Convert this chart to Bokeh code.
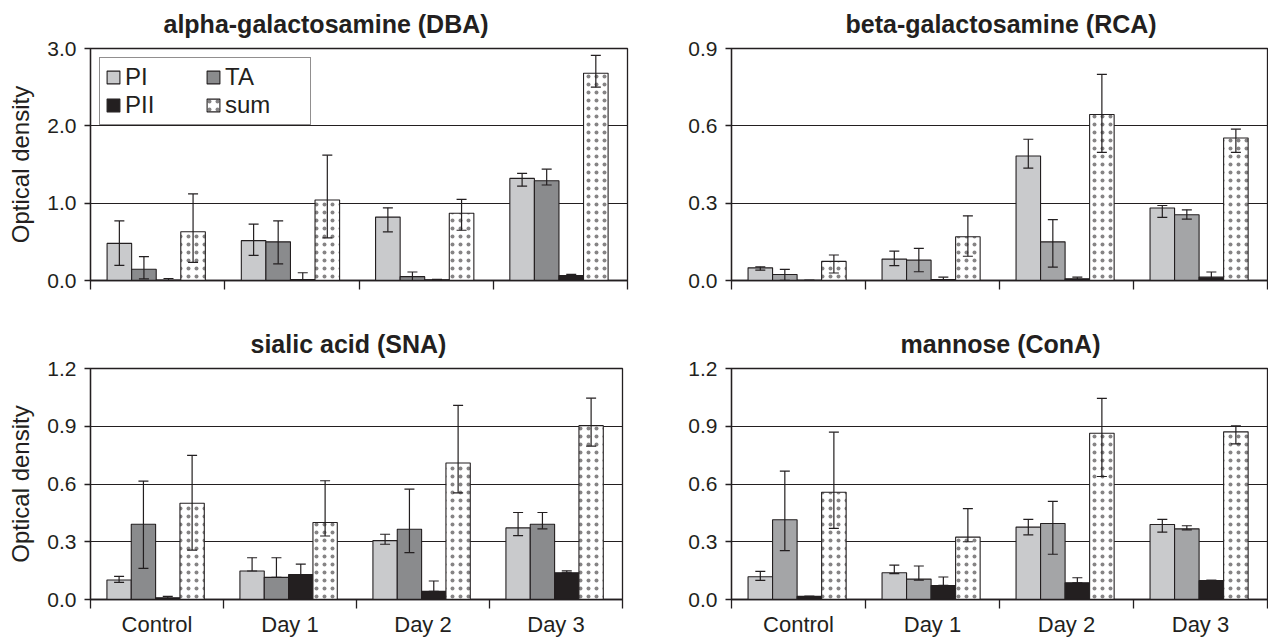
from bokeh.plotting import figure
from bokeh.models import (Range1d, FixedTicker, PrintfTickFormatter, Whisker, TeeHead,
                          ColumnDataSource, Legend, LegendItem)
from bokeh.layouts import column, row
from bokeh.embed import file_html
from bokeh.resources import INLINE

CATEGORIES = ["Control", "Day 1", "Day 2", "Day 3"]
SERIES = ["PI", "TA", "PII", "sum"]

# alpha-galactosamine (DBA)
DBA_PI = [0.48, 0.515, 0.82, 1.32]
DBA_PI_LO = [0.195, 0.325, 0.63, 1.22]
DBA_PI_HI = [0.77, 0.73, 0.94, 1.385]
DBA_TA = [0.145, 0.50, 0.05, 1.29]
DBA_TA_LO = [0.02, 0.215, 0.0, 1.235]
DBA_TA_HI = [0.31, 0.77, 0.11, 1.44]
DBA_PII = [0.005, 0.013, 0.01, 0.065]
DBA_PII_LO = [0.0, 0.0, 0.005, 0.055]
DBA_PII_HI = [0.026, 0.10, 0.015, 0.078]
DBA_SUM = [0.63, 1.04, 0.87, 2.68]
DBA_SUM_LO = [0.235, 0.55, 0.65, 2.50]
DBA_SUM_HI = [1.12, 1.62, 1.05, 2.91]

# beta-galactosamine (RCA)
RCA_PI = [0.049, 0.083, 0.483, 0.281]
RCA_PI_LO = [0.040, 0.058, 0.436, 0.245]
RCA_PI_HI = [0.053, 0.114, 0.548, 0.291]
RCA_TA = [0.023, 0.079, 0.150, 0.255]
RCA_TA_LO = [0.001, 0.034, 0.052, 0.238]
RCA_TA_HI = [0.043, 0.125, 0.236, 0.274]
RCA_PII = [0.001, 0.004, 0.0065, 0.013]
RCA_PII_LO = [0.001, 0.0, 0.002, 0.0]
RCA_PII_HI = [0.001, 0.013, 0.013, 0.033]
RCA_SUM = [0.074, 0.170, 0.644, 0.553]
RCA_SUM_LO = [0.029, 0.094, 0.497, 0.497]
RCA_SUM_HI = [0.099, 0.251, 0.80, 0.587]

# sialic acid (SNA)
SNA_PI = [0.101, 0.148, 0.306, 0.372]
SNA_PI_LO = [0.089, 0.148, 0.287, 0.332]
SNA_PI_HI = [0.12, 0.217, 0.339, 0.452]
SNA_TA = [0.391, 0.115, 0.365, 0.391]
SNA_TA_LO = [0.162, 0.115, 0.243, 0.367]
SNA_TA_HI = [0.615, 0.217, 0.573, 0.452]
SNA_PII = [0.009, 0.13, 0.042, 0.139]
SNA_PII_LO = [0.005, 0.13, 0.042, 0.139]
SNA_PII_HI = [0.016, 0.184, 0.096, 0.149]
SNA_SUM = [0.50, 0.40, 0.709, 0.903]
SNA_SUM_LO = [0.257, 0.33, 0.554, 0.797]
SNA_SUM_HI = [0.749, 0.617, 1.008, 1.046]

# mannose (ConA)
CONA_PI = [0.118, 0.139, 0.376, 0.39]
CONA_PI_LO = [0.099, 0.134, 0.336, 0.35]
CONA_PI_HI = [0.146, 0.179, 0.416, 0.416]
CONA_TA = [0.414, 0.106, 0.395, 0.367]
CONA_TA_LO = [0.254, 0.101, 0.235, 0.362]
CONA_TA_HI = [0.667, 0.174, 0.51, 0.383]
CONA_PII = [0.016, 0.073, 0.087, 0.099]
CONA_PII_LO = [0.016, 0.073, 0.087, 0.099]
CONA_PII_HI = [0.016, 0.117, 0.113, 0.099]
CONA_SUM = [0.557, 0.324, 0.864, 0.871]
CONA_SUM_LO = [0.369, 0.30, 0.639, 0.808]
CONA_SUM_HI = [0.869, 0.472, 1.045, 0.902]

FONT = "Liberation Sans"
INK = "#231f20"
PI_COLOR = "#c9cacc"
PII_COLOR = "#231f20"
BAR_W = 0.183
OFFSETS = [-0.285, -0.102, 0.081, 0.264]


def make_panel(title, vals, los, his, ta_color, ymax, yticks,
               fw, fh, bl, br, bt, bb, xlabels, ylabel, title_offset, legend=False):
    p = figure(frame_width=fw, frame_height=fh, x_range=Range1d(0, 4), y_range=Range1d(0, ymax),
               output_backend="svg", toolbar_location=None, title=title,
               min_border_left=bl, min_border_right=br, min_border_top=bt, min_border_bottom=bb)
    p.background_fill_color = "white"
    p.border_fill_color = "white"
    p.outline_line_color = INK
    p.outline_line_width = 1.3

    p.title.align = "left"
    p.title.offset = title_offset
    p.title.vertical_align = "top"
    p.title.standoff = 17
    p.title.text_font = FONT
    p.title.text_font_size = "25px"
    p.title.text_font_style = "bold"
    p.title.text_color = INK

    centers = [i + 0.5 for i in range(len(CATEGORIES))]
    xa = p.xaxis[0]
    xa.ticker = FixedTicker(ticks=centers, minor_ticks=list(range(len(CATEGORIES) + 1)))
    if xlabels:
        xa.major_label_overrides = {c: lab for c, lab in zip(centers, CATEGORIES)}
    else:
        xa.major_label_overrides = {c: "" for c in centers}
    xa.major_tick_line_color = None
    xa.major_tick_in = 0
    xa.major_tick_out = 0
    xa.minor_tick_line_color = INK
    xa.minor_tick_line_width = 1.3
    xa.minor_tick_in = 0
    xa.minor_tick_out = 9
    xa.axis_line_color = INK
    xa.axis_line_width = 1.3
    xa.major_label_standoff = 3
    xa.major_label_text_font = FONT
    xa.major_label_text_color = INK
    xa.major_label_text_font_size = "22px"

    ya = p.yaxis[0]
    ya.ticker = FixedTicker(ticks=yticks, minor_ticks=[])
    ya.formatter = PrintfTickFormatter(format="%.1f")
    ya.major_tick_in = 0
    ya.major_tick_out = 6
    ya.major_tick_line_color = INK
    ya.major_tick_line_width = 1.3
    ya.axis_line_color = INK
    ya.axis_line_width = 1.3
    ya.major_label_text_font = FONT
    ya.major_label_text_font_size = "21px"
    ya.major_label_text_color = INK
    ya.major_label_standoff = 8
    if ylabel:
        ya.axis_label = "Optical density"
        ya.axis_label_text_font = FONT
        ya.axis_label_text_font_size = "24px"
        ya.axis_label_text_font_style = "normal"
        ya.axis_label_text_color = INK
        ya.axis_label_standoff = 10

    p.xgrid.grid_line_color = None
    p.ygrid.ticker = FixedTicker(ticks=yticks)
    p.ygrid.grid_line_color = INK
    p.ygrid.grid_line_width = 1.2

    colors = [PI_COLOR, ta_color, PII_COLOR, "white"]
    renderers = []
    for k, name in enumerate(SERIES):
        xs = [c + OFFSETS[k] for c in centers]
        src = ColumnDataSource(dict(x=xs, top=vals[k], lo=los[k], hi=his[k]))
        kw = dict(x="x", top="top", bottom=0, width=BAR_W, source=src,
                  fill_color=colors[k], line_color=INK, line_width=1.1)
        if name == "sum":
            kw.update(hatch_pattern="dot", hatch_color=INK, hatch_scale=8, hatch_weight=0.4,
                      hatch_alpha=0.55)
        r = p.vbar(**kw)
        renderers.append(r)
        w = Whisker(base="x", upper="hi", lower="lo", source=src, line_color=INK, line_width=1.2,
                    level="overlay",
                    upper_head=TeeHead(size=10, line_color=INK, line_width=1.2),
                    lower_head=TeeHead(size=10, line_color=INK, line_width=1.2))
        p.add_layout(w)

    if legend:
        order = [0, 2, 1, 3]  # column-major fill: PI, PII | TA, sum
        lg = Legend(items=[LegendItem(label=SERIES[i], renderers=[renderers[i]]) for i in order],
                    location="top_left", ncols=2)
        lg.label_text_font = FONT
        lg.label_text_font_size = "24px"
        lg.label_text_color = INK
        lg.glyph_width = 16
        lg.glyph_height = 16
        lg.label_standoff = 4
        lg.label_width = 80
        lg.label_height = 20
        lg.spacing = 0
        lg.padding = 5
        lg.margin = 9
        lg.border_line_color = INK
        lg.border_line_width = 1.5
        lg.background_fill_alpha = 1.0
        p.add_layout(lg)
    return p


p1 = make_panel("alpha-galactosamine (DBA)",
                [DBA_PI, DBA_TA, DBA_PII, DBA_SUM],
                [DBA_PI_LO, DBA_TA_LO, DBA_PII_LO, DBA_SUM_LO],
                [DBA_PI_HI, DBA_TA_HI, DBA_PII_HI, DBA_SUM_HI],
                "#8a8b8d", 3.0, [0, 1, 2, 3], 537, 232, 90, 7, 48, 40, False, True, 73, legend=True)
p2 = make_panel("beta-galactosamine (RCA)",
                [RCA_PI, RCA_TA, RCA_PII, RCA_SUM],
                [RCA_PI_LO, RCA_TA_LO, RCA_PII_LO, RCA_SUM_LO],
                [RCA_PI_HI, RCA_TA_HI, RCA_PII_HI, RCA_SUM_HI],
                "#a4a5a7", 0.9, [0, 0.3, 0.6, 0.9], 536, 232, 97, 1, 48, 40, False, False, 114)
p3 = make_panel("sialic acid (SNA)",
                [SNA_PI, SNA_TA, SNA_PII, SNA_SUM],
                [SNA_PI_LO, SNA_TA_LO, SNA_PII_LO, SNA_SUM_LO],
                [SNA_PI_HI, SNA_TA_HI, SNA_PII_HI, SNA_SUM_HI],
                "#8a8b8d", 1.2, [0, 0.3, 0.6, 0.9, 1.2], 532, 231, 90, 12, 48, 41, True, True, 160)
p4 = make_panel("mannose (ConA)",
                [CONA_PI, CONA_TA, CONA_PII, CONA_SUM],
                [CONA_PI_LO, CONA_TA_LO, CONA_PII_LO, CONA_SUM_LO],
                [CONA_PI_HI, CONA_TA_HI, CONA_PII_HI, CONA_SUM_HI],
                "#a4a5a7", 1.2, [0, 0.3, 0.6, 0.9, 1.2], 536, 231, 97, 1, 48, 41, True, False, 169)

layout = column(row(p1, p2, spacing=0), row(p3, p4, spacing=0), spacing=0)
open("out.html", "w").write(file_html(layout, INLINE))
